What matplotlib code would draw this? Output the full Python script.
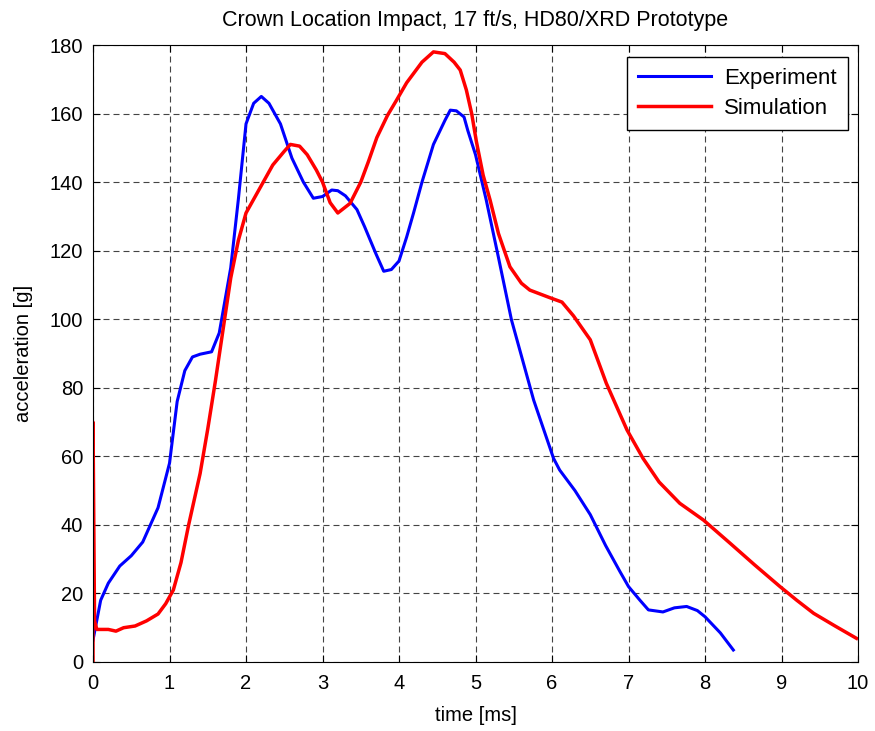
import numpy as np
import matplotlib
matplotlib.use("Agg")
import matplotlib.pyplot as plt

plt.rcParams['font.family'] = ['Liberation Sans', 'DejaVu Sans']

# experiment trace (time in ms, acceleration in g)
exp_t = [0.0, 0.1, 0.2, 0.35, 0.5, 0.65, 0.75, 0.85, 1.0, 1.1, 1.2, 1.3, 1.4, 1.55, 1.65,
         1.8, 1.9, 2.0, 2.1, 2.2, 2.3, 2.45, 2.6, 2.75, 2.88, 3.0, 3.12, 3.2, 3.3, 3.45,
         3.55, 3.7, 3.8, 3.9, 4.0, 4.1, 4.19, 4.3, 4.45, 4.6, 4.67, 4.75, 4.85, 4.9,
         5.0, 5.14, 5.3, 5.47, 5.76, 6.02, 6.1, 6.3, 6.5, 6.7, 6.89, 7.0, 7.15, 7.26, 7.45,
         7.6, 7.76, 7.9, 8.0, 8.2, 8.37]
exp_a = [6.4, 18, 23, 28, 31, 35, 40, 45, 58, 76, 85, 89, 89.8, 90.5, 96,
         115, 135, 157, 163, 165, 163, 157, 147, 140, 135.3, 135.8, 137.7, 137.5, 136, 132,
         127, 119, 114, 114.5, 117, 124, 131, 140, 151, 158, 161, 160.8, 159, 155,
         148, 134.8, 118, 99.8, 76.4, 59.4, 56, 50, 43, 34, 26.3, 22, 18, 15.2, 14.6,
         15.8, 16.2, 15, 13.2, 8.5, 3.5]

# simulation trace
sim_t = [0.0, 0.0, 0.02, 0.05, 0.2, 0.3, 0.4, 0.55, 0.7, 0.85, 0.95, 1.05, 1.15, 1.25,
         1.4, 1.5, 1.6, 1.7, 1.8, 1.9, 2.0, 2.2, 2.35, 2.5, 2.58, 2.7, 2.8, 2.92, 3.0,
         3.1, 3.2, 3.36, 3.5, 3.6, 3.71, 3.85, 3.97, 4.1, 4.3, 4.45, 4.6, 4.72, 4.8,
         4.88, 4.95, 5.01, 5.1, 5.19, 5.3, 5.45, 5.6, 5.71, 5.97, 6.13, 6.28, 6.5, 6.71,
         6.98, 7.19, 7.4, 7.67, 7.98, 8.33, 8.65, 8.98, 9.2, 9.42, 9.7, 9.98]
sim_a = [0, 70, 12, 9.5, 9.5, 9, 10, 10.5, 12, 14, 17, 21, 29, 40,
         55, 68, 82, 97, 112, 123, 131, 139, 145, 149, 151, 150.5, 148, 143.5, 140,
         134, 131, 133.8, 140, 146, 153, 159.5, 164, 169, 175, 178, 177.5, 175, 172.7,
         166.9, 160, 152, 142, 134.8, 125, 115.3, 110.5, 108.5, 106.3, 105, 101, 94, 81.3,
         67.7, 59.4, 52.5, 46.3, 41.4, 34.6, 28.3, 22, 18, 14.2, 10.5, 6.9]

fig = plt.figure(figsize=(8.75, 7.31), dpi=100)
ax = fig.add_axes([0.1063, 0.0944, 0.8743, 0.844])

ax.plot(exp_t, exp_a, color='#0000ff', lw=2.2, label='Experiment')
ax.plot(sim_t, sim_a, color='#ff0000', lw=2.5, label='Simulation')

ax.set_xlim(0, 10)
ax.set_ylim(0, 180)
ax.set_xticks(np.arange(0, 11, 1))
ax.set_yticks(np.arange(0, 181, 20))
ax.grid(True, color='#444444', linestyle=(0, (5.4, 3.6)), lw=0.8)
ax.tick_params(direction='in', top=True, right=True, labelsize=14.5, length=5)
ax.tick_params(axis='x', pad=9)
ax.tick_params(axis='y', pad=7)
for s in ax.spines.values():
    s.set_linewidth(0.8)

ax.set_xlabel('time [ms]', fontsize=14.5, labelpad=9)
ax.set_ylabel('acceleration [g]', fontsize=14.5, labelpad=12)
ax.set_title('Crown Location Impact, 17 ft/s, HD80/XRD Prototype', fontsize=15.5, pad=14)

leg = ax.legend(loc='upper right', bbox_to_anchor=(0.987, 0.981), borderaxespad=0,
                fontsize=16, fancybox=False, framealpha=1, edgecolor='black',
                handlelength=3.3, borderpad=0.5, labelspacing=0.4, handletextpad=0.6)
leg.get_frame().set_linewidth(1.0)

fig.savefig('out.png', dpi=100)
